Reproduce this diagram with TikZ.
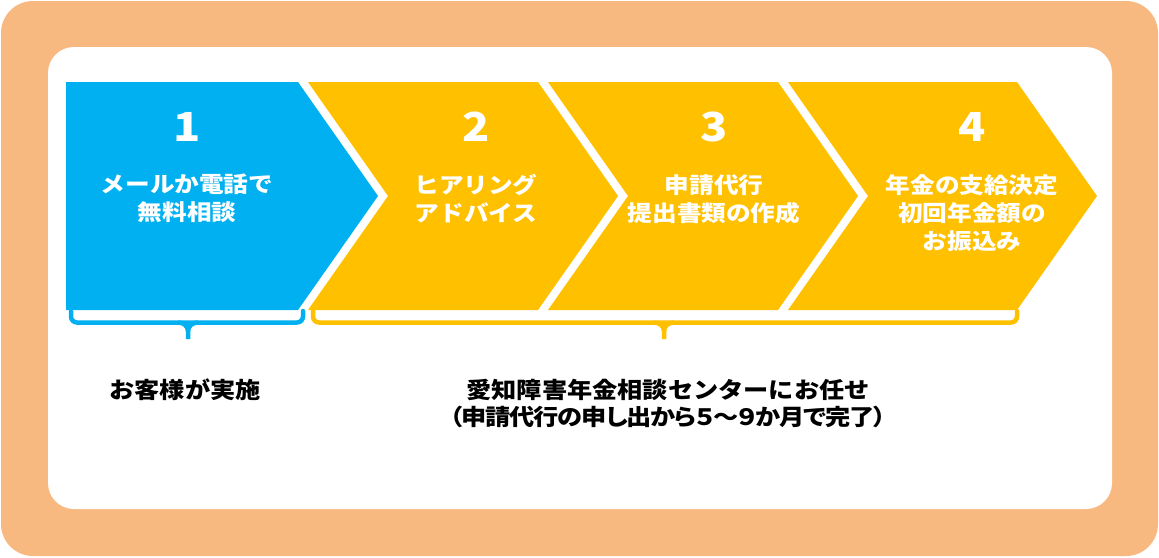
\documentclass[tikz,border=0pt]{standalone}
\usepackage{fontspec}
\setmainfont{Noto Sans CJK JP}[FakeStretch=1.12]
\newfontfamily\paltfont{Noto Sans CJK JP}[FakeStretch=1.12, RawFeature=+palt, LetterSpace=-5]
\usepackage{xcolor}
\usetikzlibrary{positioning,calc}
\definecolor{OrangeFrame}{RGB}{248, 185, 129}
\definecolor{StepBlue}{RGB}{0, 176, 240}
\definecolor{StepGold}{RGB}{255, 192, 0}

\tikzset{
    stepnum/.style={text=white, inner sep=0pt, font=\fontsize{40pt}{40pt}\selectfont\bfseries},
    steptxt/.style={text=white, inner sep=0pt, align=center, anchor=north,
        font=\fontsize{22pt}{28pt}\selectfont\bfseries},
    notetxt/.style={text=black, inner sep=0pt, align=center,
        font=\fontsize{22.5pt}{27pt}\selectfont\bfseries},
    brace/.style={line width=4.5pt, line cap=round, line join=round, rounded corners=6pt}
}

\begin{document}
\begin{tikzpicture}[x=1pt, y=-1pt]
    \useasboundingbox (0,0) rectangle (1159,557);
    % frame
    \fill[OrangeFrame, rounded corners=32pt] (1,1) rectangle (1158,556);
    \fill[white, rounded corners=26pt] (48,47) rectangle (1112,509);

    % chevrons
    \fill[StepBlue] (66,82) -- (298,82) -- (378,196) -- (298,310) -- (66,310) -- cycle;
    \fill[StepGold] (308,82) -- (538,82) -- (618,196) -- (538,310) -- (308,310) -- (388,196) -- cycle;
    \fill[StepGold] (548,82) -- (778,82) -- (858,196) -- (778,310) -- (548,310) -- (628,196) -- cycle;
    \fill[StepGold] (788,82) -- (1017,82) -- (1097,196) -- (1017,310) -- (788,310) -- (868,196) -- cycle;

    % step labels
    \node[stepnum] (num1) at (187,127) {1};
    \node[stepnum] (num2) at (476,127) {2};
    \node[stepnum] (num3) at (714,127) {3};
    \node[stepnum] (num4) at (972,127) {4};
    \node[steptxt] (txt1) at (187,174) {メールか電話で\\無料相談};
    \node[steptxt] (txt2) at (476,174) {ヒアリング\\アドバイス};
    \node[steptxt] (txt3) at (714,174) {申請代行\\提出書類の作成};
    \node[steptxt] (txt4) at (972,174) {年金の支給決定\\初回年金額の\\お振込み};

    % braces
    \draw[brace, StepBlue] (71,311) -- (71,322.5) -- (303,322.5) -- (303,311);
    \draw[StepBlue, line width=4.5pt] (178,322.5) to[out=0, in=90] (188,331) -- (188,339);
    \draw[StepBlue, line width=4.5pt] (198,322.5) to[out=180, in=90] (188,331);
    \draw[brace, StepGold] (313,311) -- (313,322.5) -- (1017,322.5) -- (1017,311);
    \draw[StepGold, line width=4.5pt] (654,322.5) to[out=0, in=90] (664,331) -- (664,339);
    \draw[StepGold, line width=4.5pt] (674,322.5) to[out=180, in=90] (664,331);

    % notes
    \node[notetxt] (own) at (185,390) {お客様が実施};
    \node[notetxt] (center) at (668,403.5) {愛知障害年金相談センターにお任せ\\{\paltfont（申請代行の申し出から５～９か月で完了）}};
\end{tikzpicture}
\end{document}
